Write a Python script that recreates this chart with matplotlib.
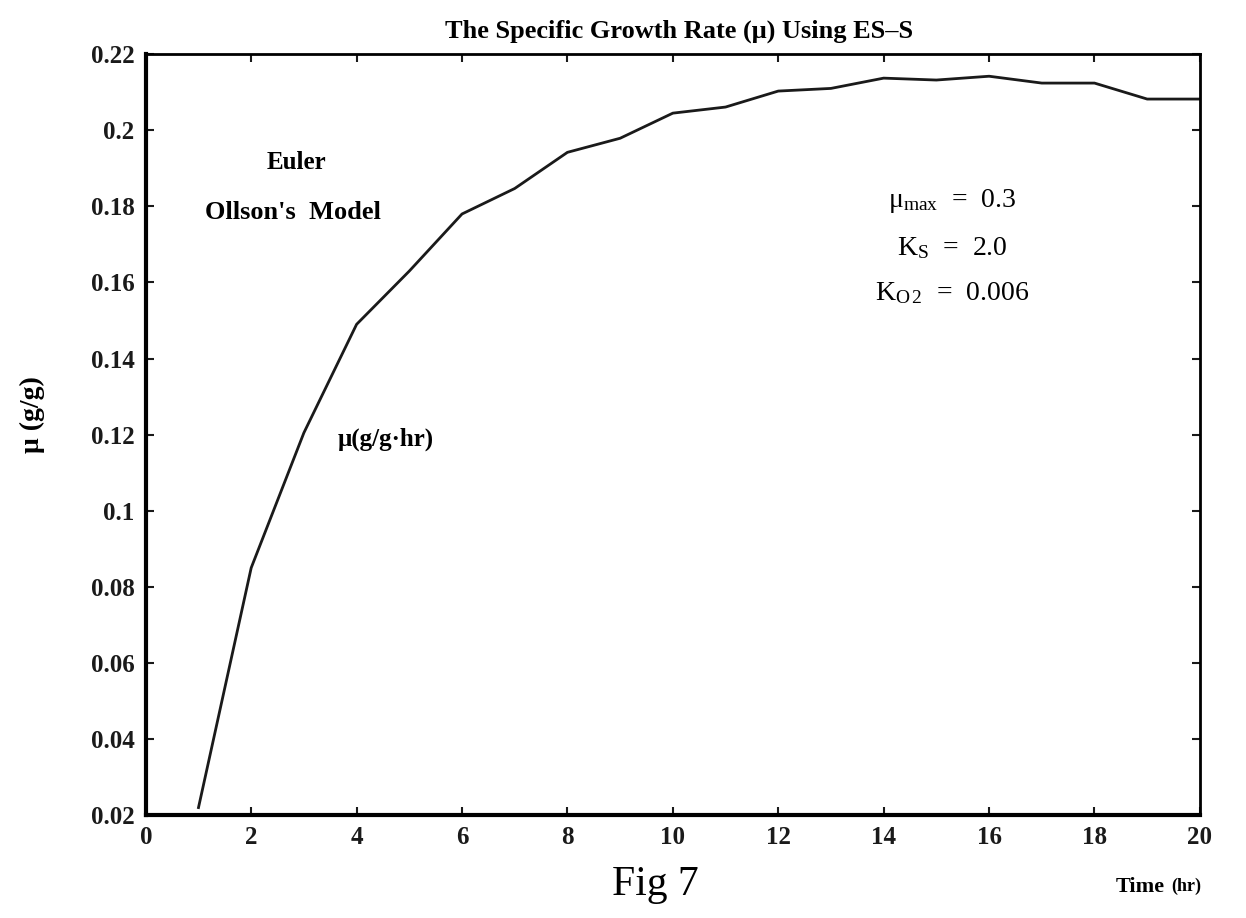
import matplotlib
matplotlib.use("Agg")
import matplotlib.pyplot as plt

# Data (time in hr, specific growth rate)
time_hr = [1, 2, 3, 4, 5, 6, 7, 8, 9, 10, 11, 12, 13, 14, 15, 16, 17, 18, 19, 20]
mu = [0.022, 0.085, 0.1205, 0.149, 0.163, 0.178, 0.1847, 0.1942, 0.1979, 0.2045,
      0.2061, 0.2103, 0.2110, 0.2137, 0.2132, 0.2142, 0.2124, 0.2124, 0.2082, 0.2082]

x_ticks = [0, 2, 4, 6, 8, 10, 12, 14, 16, 18, 20]
y_ticks = [0.02, 0.04, 0.06, 0.08, 0.1, 0.12, 0.14, 0.16, 0.18, 0.2, 0.22]
y_tick_labels = ['0.02', '0.04', '0.06', '0.08', '0.1', '0.12', '0.14', '0.16', '0.18', '0.2', '0.22']

plt.rcParams['font.family'] = ['Liberation Serif', 'DejaVu Serif']
plt.rcParams['mathtext.fontset'] = 'custom'
plt.rcParams['mathtext.rm'] = 'Liberation Serif'
plt.rcParams['mathtext.it'] = 'Liberation Serif'

fig = plt.figure(figsize=(12.46, 9.18), dpi=100)
ax = fig.add_axes([0.117, 0.112, 0.846, 0.829])

ax.plot(time_hr, mu, color='#1a1a1a', linewidth=2.0)

ax.set_xlim(0, 20)
ax.set_ylim(0.02, 0.22)
ax.set_xticks(x_ticks)
ax.set_xticklabels([str(t) for t in x_ticks], fontsize=18, fontweight='bold')
ax.set_yticks(y_ticks)
ax.set_yticklabels(y_tick_labels, fontsize=18, fontweight='bold')
ax.tick_params(direction='in', length=6, width=1.5, top=True, right=True,
               pad=8, colors='#1a1a1a')
for side in ['left', 'bottom']:
    ax.spines[side].set_linewidth(3)
for side in ['top', 'right']:
    ax.spines[side].set_linewidth(2)

# Title and axis labels
fig.text(0.545, 0.966, 'The Specific Growth Rate (\u03bc) Using ES\u2013S',
         ha='center', va='center', fontsize=19, fontweight='bold')
fig.text(0.026, 0.548, '\u03bc (g/g)', rotation=90, ha='center', va='center',
         fontsize=20, fontweight='bold')
fig.text(0.915, 0.034, 'Time', ha='center', va='center', fontsize=16, fontweight='bold')
fig.text(0.952, 0.034, '(hr)', ha='center', va='center', fontsize=13, fontweight='bold')
fig.text(0.526, 0.036, 'Fig 7', ha='center', va='center', fontsize=30)

# Annotations
ax.text(2.85, 0.1915, 'Euler', ha='center', va='center', fontsize=18, fontweight='bold')
ax.text(2.8, 0.1783, "Ollson's  Model", ha='center', va='center', fontsize=19, fontweight='bold')
ax.text(4.55, 0.1188, '\u03bc(g/g\u00b7hr)', ha='center', va='center', fontsize=18, fontweight='bold')

ax.text(15.3, 0.1815, '\u03bc$_{\\mathrm{max}}$  =  0.3', ha='center', va='center', fontsize=20)
ax.text(15.3, 0.1690, 'K$_{\\mathrm{S}}$  =  2.0', ha='center', va='center', fontsize=20)
ax.text(15.3, 0.1572, 'K$_{\\mathrm{O\\,2}}$  =  0.006', ha='center', va='center', fontsize=20)

fig.savefig('out.png', dpi=100, facecolor='white')
